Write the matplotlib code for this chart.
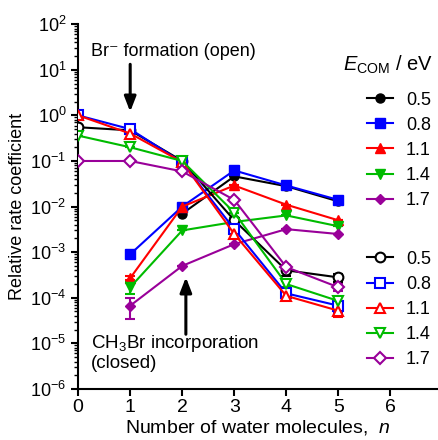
import numpy as np
import matplotlib
matplotlib.use("Agg")
import matplotlib.pyplot as plt
import matplotlib.ticker as mticker
from matplotlib.lines import Line2D
from matplotlib import rcParams

rcParams["font.family"] = ["Liberation Sans", "DejaVu Sans"]
rcParams["mathtext.fontset"] = "custom"
rcParams["mathtext.rm"] = "Liberation Sans"
rcParams["mathtext.it"] = "Liberation Sans:italic"
rcParams["axes.linewidth"] = 1.5

# ── Data ─────────────────────────────────────────────────────────────────────
n_water = [0, 1, 2, 3, 4, 5]
energies = ["0.5", "0.8", "1.1", "1.4", "1.7"]
colors = ["black", "#0000ff", "#ff0000", "#00bb00", "#990099"]
markers = ["o", "s", "^", "v", "D"]

# Br- formation (open symbols)
open_vals = [
    [0.55, 0.47, 0.10, 0.0050, 4.0e-4, 2.8e-4],
    [1.00, 0.50, 0.093, 0.0032, 1.25e-4, 6.7e-5],
    [1.00, 0.40, 0.095, 0.0025, 1.1e-4, 5.2e-5],
    [0.36, 0.20, 0.10, 0.0074, 2.0e-4, 8.5e-5],
    [0.10, 0.10, 0.059, 0.014, 4.7e-4, 1.7e-4],
]
open_err = [
    [0, 0, 0, 0, 1.0e-4, 6.0e-5],
    [0, 0, 0, 0, 2.0e-5, 2.0e-5],
    [0, 0, 0, 0, 2.0e-5, 1.5e-5],
    [0, 0, 0, 0, 3.0e-5, 2.0e-5],
    [0, 0, 0, 0, 5.0e-5, 3.0e-5],
]

# CH3Br incorporation (closed symbols)
closed_vals = [
    [np.nan, np.nan, 0.0070, 0.046, 0.028, 0.013],
    [np.nan, 9.0e-4, 0.010, 0.062, 0.029, 0.014],
    [np.nan, 2.7e-4, 0.010, 0.029, 0.011, 0.0050],
    [np.nan, 1.7e-4, 0.0030, 0.0046, 0.0064, 0.0037],
    [np.nan, 6.7e-5, 5.0e-4, 0.0015, 0.0032, 0.0025],
]
closed_err = [
    [0, 0, 0, 0, 0, 0],
    [0, 1.5e-4, 0, 0, 0, 0],
    [0, 3.0e-5, 0, 0, 0, 0],
    [0, 5.0e-5, 0, 0, 0, 0],
    [0, 3.2e-5, 0, 0, 0, 0],
]

# ── Figure ───────────────────────────────────────────────────────────────────
fig = plt.figure(figsize=(4.39, 4.40), dpi=100)
ax = fig.add_axes([0.178, 0.116, 0.818, 0.829])

for i in range(len(energies)):
    ax.errorbar(n_water, closed_vals[i], yerr=closed_err[i], color=colors[i],
                marker=markers[i], ms=6.5 if markers[i] != "D" else 5.5,
                lw=1.5, capsize=3.5, elinewidth=1.5, capthick=1.5, zorder=2)
for i in range(len(energies)):
    ax.errorbar(n_water, open_vals[i], yerr=open_err[i], color=colors[i],
                marker=markers[i], ms=7 if markers[i] != "D" else 6,
                mfc="white", mew=1.5, lw=1.5, capsize=3.5,
                elinewidth=1.5, capthick=1.5, zorder=3)

ax.set_yscale("log")
ax.set_ylim(1e-6, 1e2)
ax.set_xlim(0, 6.9)
ax.set_xticks(range(0, 7))
ax.yaxis.set_major_locator(mticker.LogLocator(base=10, numticks=20))
ax.yaxis.set_minor_locator(mticker.LogLocator(base=10, subs=np.arange(2, 10), numticks=20))
ax.yaxis.set_minor_formatter(mticker.NullFormatter())
ax.tick_params(axis="both", which="major", direction="out", length=5, width=1.5, labelsize=13)
ax.tick_params(axis="x", which="major", pad=2, labelsize=14)
ax.tick_params(axis="y", which="minor", direction="out", length=3, width=1.0)
ax.spines["top"].set_visible(False)
ax.spines["right"].set_visible(False)

ax.set_xlabel("Number of water molecules,  $\\it{n}$", fontsize=14, labelpad=2)
ax.set_ylabel("Relative rate coefficient", fontsize=13, labelpad=3)

# Annotations
ax.text(0.25, 10**1.4, "Br\u207b formation (open)", fontsize=13,
        va="center", ha="left")
ax.annotate("", xy=(1, 10**0.08), xytext=(1, 10**1.12),
            arrowprops=dict(arrowstyle="-|>,head_length=0.9,head_width=0.35",
                            color="black", lw=2.2, shrinkA=0, shrinkB=0))
ax.text(0.25, 10**-5.2, "CH$_3$Br incorporation\n(closed)", fontsize=13.5,
        va="center", ha="left", linespacing=1.15)
ax.annotate("", xy=(2.07, 10**-3.55), xytext=(2.07, 10**-4.8),
            arrowprops=dict(arrowstyle="-|>,head_length=0.9,head_width=0.35",
                            color="black", lw=2.2, shrinkA=0, shrinkB=0))

# Legends
fig.text(0.986, 0.852, "$\\it{E}_{\\mathregular{COM}}$ / eV", fontsize=14.5,
         ha="right", va="center")

closed_handles = [Line2D([], [], color=c, marker=m, lw=1.5,
                         ms=6.5 if m != "D" else 5.5) for c, m in zip(colors, markers)]
open_handles = [Line2D([], [], color=c, marker=m, lw=1.5, mfc="white", mew=1.5,
                       ms=7 if m != "D" else 6) for c, m in zip(colors, markers)]

leg_kw = dict(frameon=False, fontsize=13, handlelength=1.45, handletextpad=0.7,
              labelspacing=0.45, borderpad=0, borderaxespad=0, loc="upper left",
              bbox_transform=fig.transFigure)
leg1 = fig.legend(closed_handles, energies, bbox_to_anchor=(0.836, 0.792), **leg_kw)
leg2 = fig.legend(open_handles, energies, bbox_to_anchor=(0.836, 0.430), **leg_kw)

fig.savefig("out.png", dpi=100)
